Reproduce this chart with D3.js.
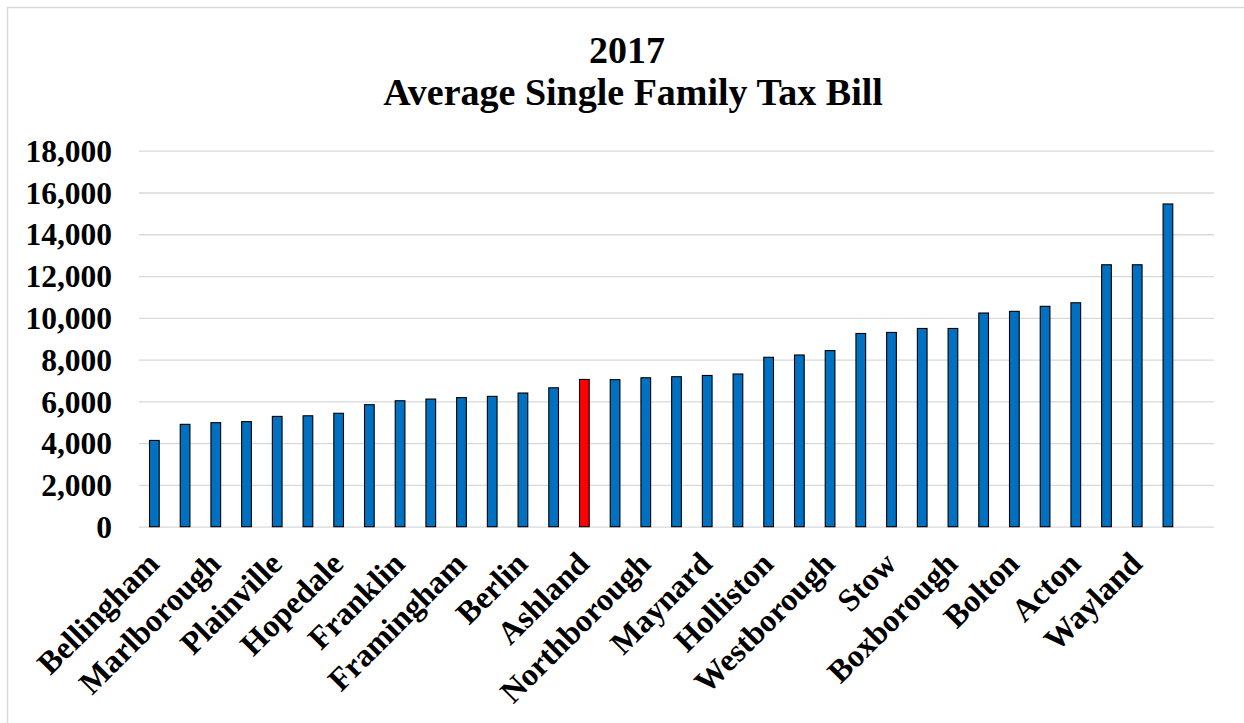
<!DOCTYPE html>
<html>
<head>
<meta charset="utf-8">
<script src="https://cdn.jsdelivr.net/npm/d3@7"></script>
<style>
  body { margin: 0; background: #fff; }
  svg text { font-family: "Liberation Serif", "Times New Roman", serif; font-weight: bold; fill: #000; }
</style>
</head>
<body>
<div id="chart"></div>
<script>
// title lines
const titleLines = ["2017", "Average Single Family Tax Bill"];

// only every other town gets a label on the axis, last slot is empty
const tickLabels = [
  "Bellingham", "", "Marlborough", "", "Plainville", "", "Hopedale", "",
  "Franklin", "", "Framingham", "", "Berlin", "", "Ashland", "",
  "Northborough", "", "Maynard", "", "Holliston", "", "Westborough", "",
  "Stow", "", "Boxborough", "", "Bolton", "", "Acton", "", "Wayland", "", ""
];

// average single family tax bill, $
const taxBills = [
  4130, 4900, 4980, 5030, 5280, 5310, 5430, 5840,
  6030, 6110, 6180, 6240, 6400, 6650, 7050, 7040,
  7130, 7180, 7240, 7310, 8110, 8220, 8430, 9250,
  9300, 9490, 9490, 10230, 10310, 10550, 10720, 12540,
  12540, 15450, null
];

const highlightTown = "Ashland";
const yTicks = [0, 2000, 4000, 6000, 8000, 10000, 12000, 14000, 16000, 18000];

/* -----------------------------
   Layout
-------------------------------- */

const width = 1244;
const height = 723;
const plot = { left: 139, right: 1214, top: 150.7, bottom: 526.7 };

const svg = d3
  .select("#chart")
  .append("svg")
  .attr("width", width)
  .attr("height", height);

// chart area border (runs off the right / bottom of the picture)
svg
  .append("rect")
  .attr("x", 7.5)
  .attr("y", 7.5)
  .attr("width", width + 20)
  .attr("height", height + 20)
  .attr("fill", "none")
  .attr("stroke", "#d9d9d9")
  .attr("stroke-width", 1.5);

const x = d3
  .scaleBand()
  .domain(d3.range(tickLabels.length))
  .range([plot.left, plot.right])
  .paddingInner(0.684)
  .paddingOuter(0.342);

const y = d3
  .scaleLinear()
  .domain([0, 18000])
  .range([plot.bottom, plot.top]);

/* -----------------------------
   Title
-------------------------------- */

svg
  .append("text")
  .attr("x", 627)
  .attr("y", 63)
  .attr("text-anchor", "middle")
  .style("font-size", "38px")
  .text(titleLines[0]);

svg
  .append("text")
  .attr("x", 633)
  .attr("y", 105)
  .attr("text-anchor", "middle")
  .style("font-size", "38px")
  .text(titleLines[1]);

/* -----------------------------
   Y axis + gridlines
-------------------------------- */

const yAxis = svg
  .append("g")
  .attr("transform", `translate(${plot.left},0)`)
  .call(
    d3.axisLeft(y)
      .tickValues(yTicks)
      .tickSize(-(plot.right - plot.left))
      .tickPadding(27)
      .tickFormat(d3.format(","))
  );

yAxis.select(".domain").remove();
yAxis
  .selectAll(".tick line")
  .attr("stroke", "#d9d9d9")
  .attr("stroke-width", 1.3);
yAxis
  .selectAll(".tick text")
  .attr("dy", "0.34em")
  .style("font-size", "31.5px")
  .style("font-family", "'Liberation Serif', 'Times New Roman', serif");

/* -----------------------------
   Bars
-------------------------------- */

const bars = taxBills
  .map((v, i) => ({ i, value: v, label: tickLabels[i] }))
  .filter(d => d.value != null);

svg
  .append("g")
  .selectAll("rect")
  .data(bars)
  .enter()
  .append("rect")
  .attr("x", d => x(d.i))
  .attr("y", d => y(d.value))
  .attr("width", x.bandwidth())
  .attr("height", d => y(0) - y(d.value))
  .attr("fill", d => (d.label === highlightTown ? "#ff0000" : "#0070c0"))
  .attr("stroke", "#000")
  .attr("stroke-width", 1.1);

/* -----------------------------
   X axis labels (rotated)
-------------------------------- */

const xAxis = svg
  .append("g")
  .attr("transform", `translate(0,${plot.bottom})`)
  .call(d3.axisBottom(x).tickSize(0).tickFormat(i => tickLabels[i]));

xAxis.select(".domain").remove();
xAxis
  .selectAll(".tick text")
  .attr("text-anchor", "end")
  .attr("y", 0)
  .attr("dy", 0)
  .attr("transform", "translate(6.5,39) rotate(-45)")
  .style("font-size", "32px")
  .style("font-family", "'Liberation Serif', 'Times New Roman', serif");
</script>
</body>
</html>
